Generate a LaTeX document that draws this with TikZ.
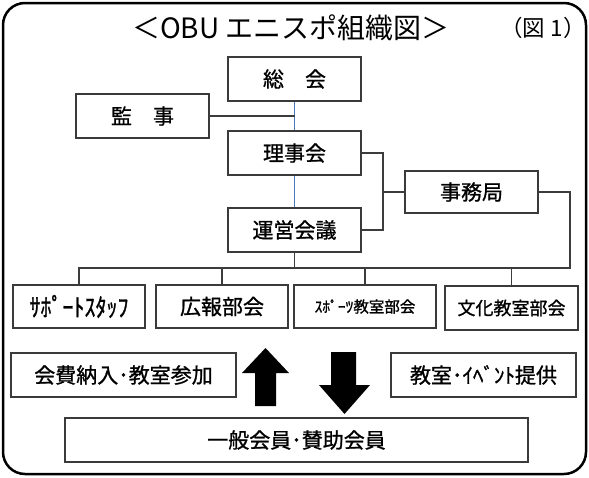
\documentclass[tikz,border=0pt]{standalone}
\usepackage{fontspec}
\setmainfont{Noto Sans CJK JP}
\newfontfamily\jpb{Noto Sans CJK JP}[FakeBold=1.0]
\definecolor{boxgray}{HTML}{3A3A3A}
\definecolor{linkgray}{HTML}{3C3C3C}
\definecolor{linkblue}{HTML}{4A78B8}
\begin{document}
\begin{tikzpicture}[x=1pt,y=-1pt,
  box/.style={draw=boxgray, line width=1.3pt, minimum height=44pt, inner sep=0pt, font=\jpb\fontsize{21}{25}\selectfont},
  link/.style={draw=linkgray, line width=1.2pt},
  bluelink/.style={draw=linkblue, line width=0.8pt}]
\useasboundingbox (0,0) rectangle (589,477);
\draw[line width=2.5pt, rounded corners=22pt] (3,3) rectangle (586,474);
\node (title) at (291,28) {\fontsize{28}{32}\selectfont ＜OBU エニスポ組織図＞};
\node (fig) at (543,28) {\fontsize{22.5}{26}\selectfont （図 1）};
\node[box, minimum width=133pt] (sokai) at (294.5,79) {総　会};
\node[box, minimum width=133pt] (kanji) at (142.5,116) {監　事};
\node[box, minimum width=133pt] (rijikai) at (294.5,153) {理事会};
\node[box, minimum width=133pt] (unei) at (294.5,230) {運営会議};
\node[box, minimum width=133pt, minimum height=42pt] (jimu) at (471.5,192) {事務局};
\node[box, minimum width=132pt, minimum height=43pt, font=\jpb\fontsize{22}{26}\selectfont] (support) at (79,306.5) {\scalebox{1}[1.15]{ｻﾎﾟｰﾄｽﾀｯﾌ}};
\node[box, minimum width=132pt, minimum height=43pt] (koho) at (222,306.5) {広報部会};
\node[box, minimum width=142pt, minimum height=43pt, font=\jpb\fontsize{15.5}{18}\selectfont] (sports) at (365,306.5) {ｽﾎﾟｰﾂ教室部会};
\node[box, minimum width=133pt, font=\jpb\fontsize{18}{22}\selectfont] (bunka) at (511.5,308) {文化教室部会};
\node[box, minimum width=225pt] (kaihi) at (123.5,375) {会費納入･教室参加};
\node[box, minimum width=185pt] (teikyo) at (483.5,375) {教室･ｲﾍﾞﾝﾄ提供};
\node[box, minimum width=463pt] (ippan) at (296.5,440) {一般会員･賛助会員};
% connectors
\coordinate (br) at (383,192);
\coordinate (rt) at (570,268);
\coordinate (bus) at (0,268);
\draw[bluelink] (sokai) -- (rijikai);
\draw[bluelink] (rijikai) -- (unei);
\draw[link] (kanji.east) -- (kanji.east -| sokai.south);
\draw[link] (rijikai.east) -| (br) |- (unei.east);
\draw[link, line width=1.8pt] (br) -- (jimu.west);
\draw[link] (jimu.east) -| (rt) -- (sports.north |- rt);
\draw[link] (unei.south) -- (unei.south |- bus);
\draw[link] (support.north) -- (support.north |- bus) -- (bunka.north |- bus) -- (bunka.north);
\draw[link] (koho.north) -- (koho.north |- bus);
\draw[link] (sports.north) -- (sports.north |- bus);
% block arrows
\fill (255,406) -- (255,373) -- (242,373) -- (265.5,348) -- (289,373) -- (276,373) -- (276,406) -- cycle;
\fill (331,352) -- (356,352) -- (356,385) -- (370,385) -- (344.5,414) -- (319,385) -- (331,385) -- cycle;
\end{tikzpicture}
\end{document}
